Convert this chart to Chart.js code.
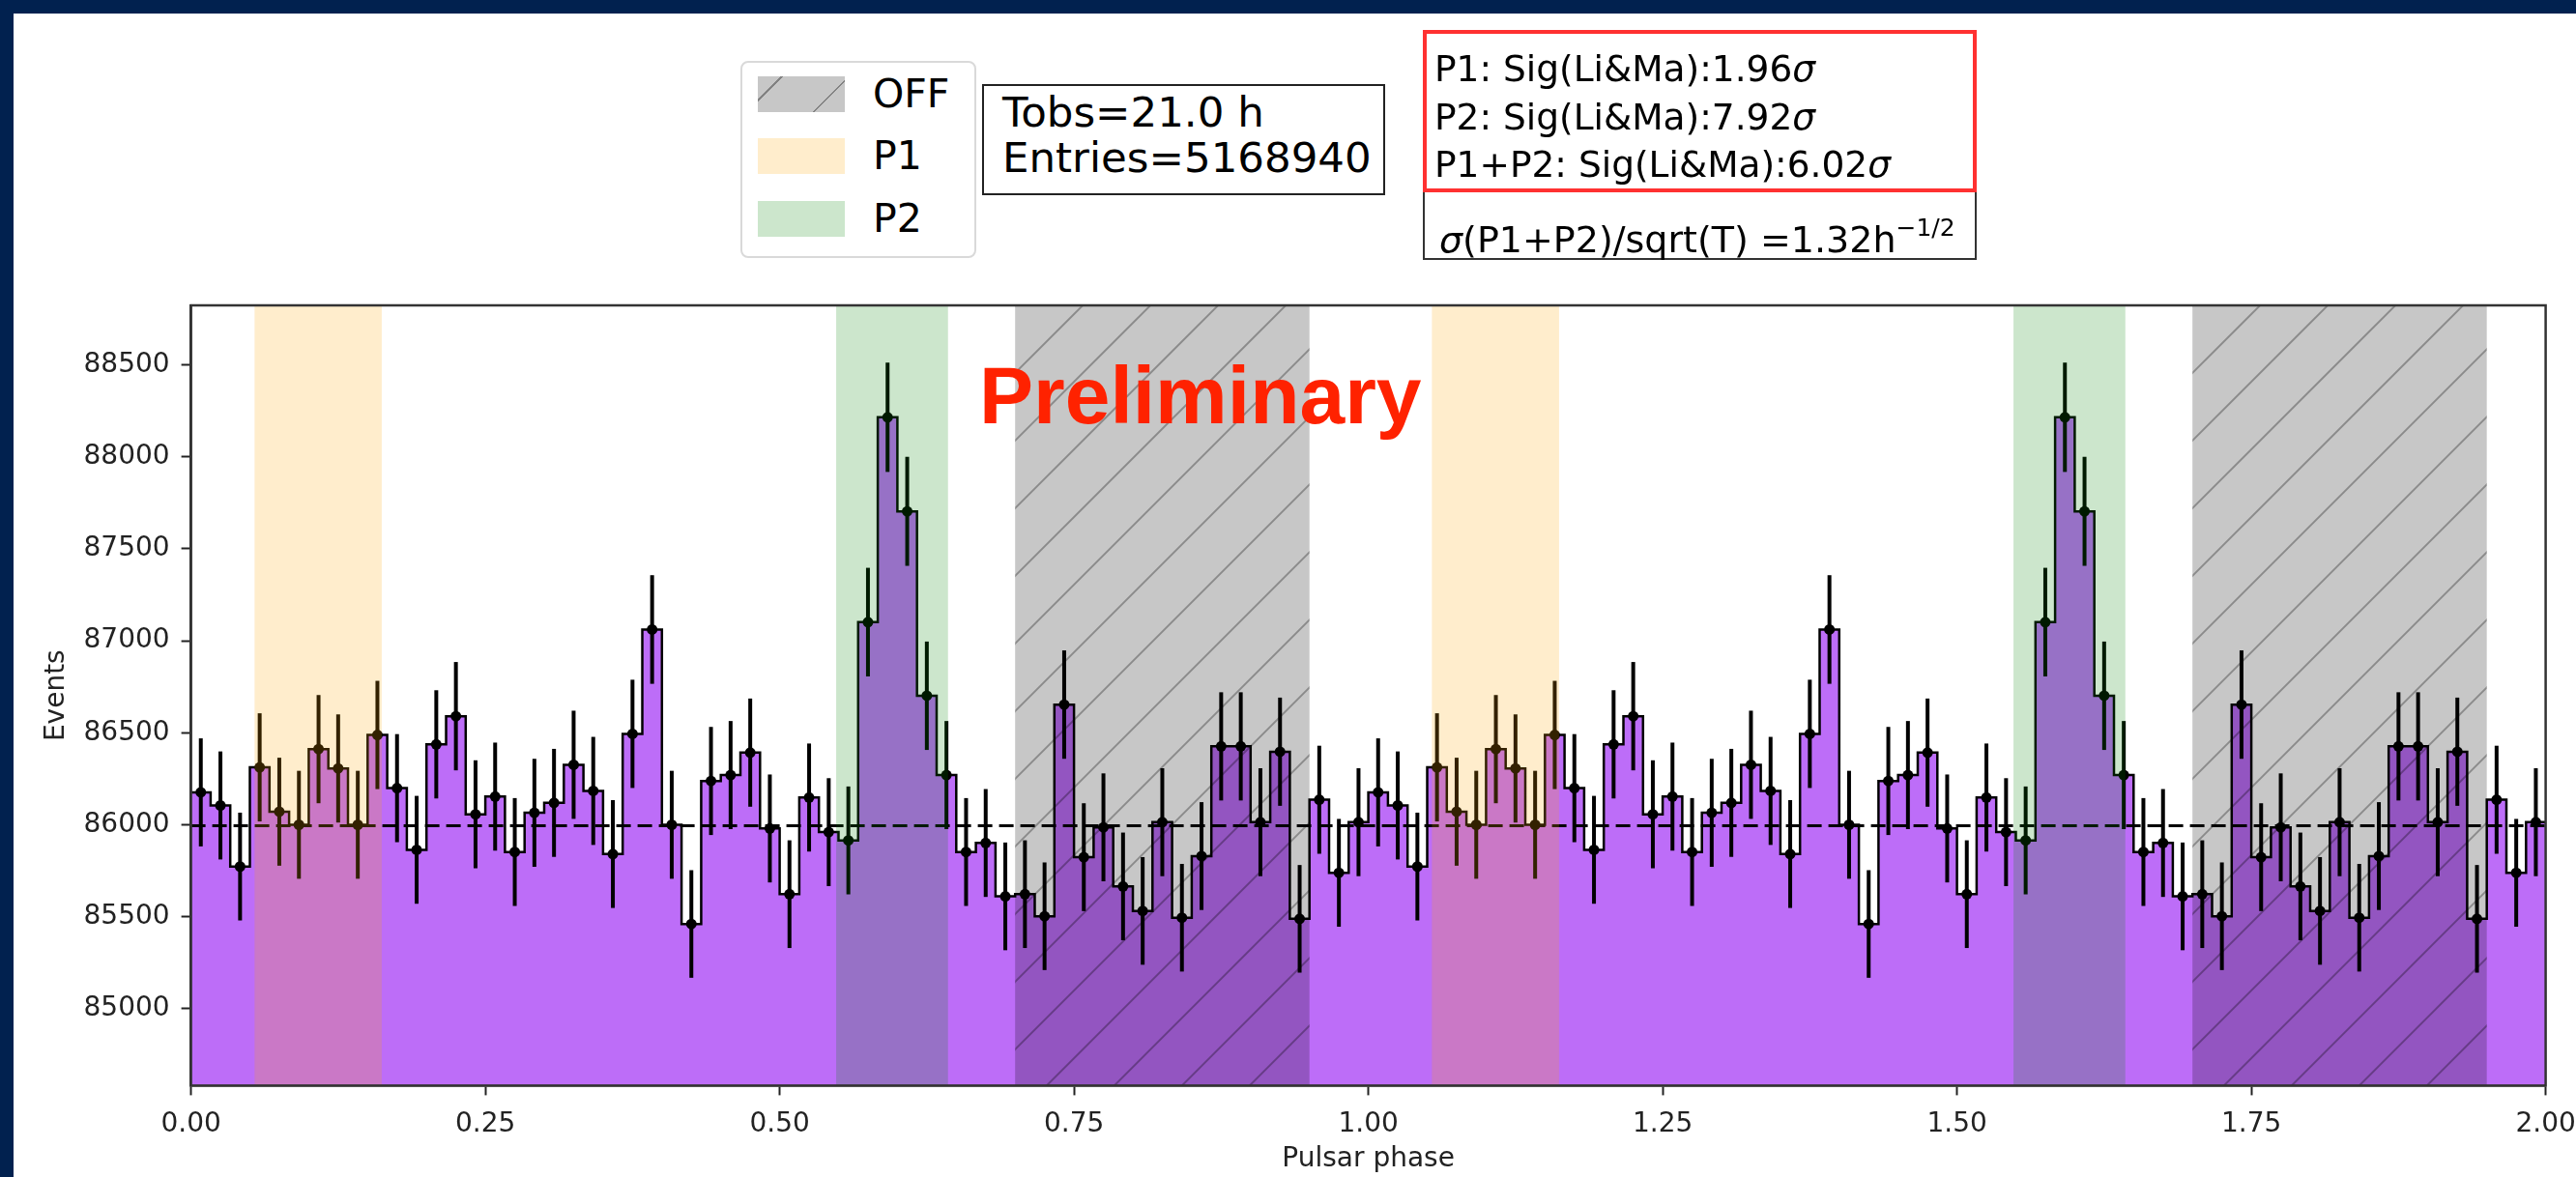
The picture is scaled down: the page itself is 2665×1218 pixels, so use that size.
<!DOCTYPE html>
<html lang="en">
<head>
<meta charset="UTF-8" />
<title>Pulsar phaseogram</title>
<style>
  html, body { margin: 0; padding: 0; }
  body {
    width: 2665px; height: 1218px;
    background: #01214f;
    position: relative; overflow: hidden;
    font-family: "DejaVu Sans", sans-serif;
    color: #000;
  }
  .panel { position: absolute; left: 14px; top: 14px; right: 0; bottom: 0; background: #fff; }
  #phaseChart { position: absolute; left: 0; top: 0; }
  .box { position: absolute; box-sizing: border-box; background: #fff; }
  .line { position: absolute; white-space: nowrap; }

  .legend { left: 766px; top: 63px; width: 244px; height: 204px; border: 2px solid #d9d9d9; border-radius: 8px; }
  .patch { position: absolute; left: 784px; width: 90px; height: 37px; }
  .patch.off {
    background-color: #c7c7c7;
    background-image: repeating-linear-gradient(-45deg, transparent 0 22px, rgba(0,0,0,0.35) 22px 24px, transparent 24px 49px);
  }
  .patch.p1 { background: #ffedcc; }
  .patch.p2 { background: #cce6cc; }
  .legend-text { font-size: 41px; line-height: 50px; left: 903px; }

  .tobs { left: 1016px; top: 87px; width: 417px; height: 115px; border: 2px solid #222; }
  .tobs-text { font-size: 43.5px; line-height: 50px; left: 1037px; }

  .sig { left: 1472px; top: 31px; width: 573px; height: 168px; border: 4px solid #ff3131; }
  .sig-text { font-size: 37.5px; line-height: 44px; left: 1484px; }
  .rate { left: 1472px; top: 197px; width: 573px; height: 72px; border: 2px solid #333; border-top: none; }
  .rate-text { font-size: 38px; line-height: 44px; left: 1489px; }
  .rate-text sup { font-size: 25px; vertical-align: 17px; }

  .prelim {
    position: absolute; left: 1013px; top: 367px;
    font-family: "Liberation Sans", Arial, sans-serif; font-weight: bold;
    font-size: 84px; line-height: 84px; color: #ff2200; white-space: nowrap;
  }
</style>
</head>
<body>
  <div class="panel"></div>
  <canvas id="phaseChart" width="2665" height="1218"></canvas>

  <!-- legend for the shaded phase windows -->
  <div class="box legend"></div>
  <div class="patch off" style="top: 79px;"></div>
  <div class="line legend-text" style="top: 72px;">OFF</div>
  <div class="patch p1" style="top: 143px;"></div>
  <div class="line legend-text" style="top: 136px;">P1</div>
  <div class="patch p2" style="top: 208px;"></div>
  <div class="line legend-text" style="top: 201px;">P2</div>

  <div class="box tobs"></div>
  <div class="line tobs-text" style="top: 91px;">Tobs=21.0 h</div>
  <div class="line tobs-text" style="top: 138px;">Entries=5168940</div>

  <div class="box rate"></div>
  <div class="line rate-text" style="top: 214px;"><i>σ</i>(P1+P2)/sqrt(T) =1.32h<sup>−1/2</sup></div>
  <div class="box sig"></div>
  <div class="line sig-text" style="top: 49px;">P1: Sig(Li&amp;Ma):1.96<i>σ</i></div>
  <div class="line sig-text" style="top: 99px;">P2: Sig(Li&amp;Ma):7.92<i>σ</i></div>
  <div class="line sig-text" style="top: 148px;">P1+P2: Sig(Li&amp;Ma):6.02<i>σ</i></div>

  <div class="prelim">Preliminary</div>

  <script src="https://cdn.jsdelivr.net/npm/chart.js"></script>
  <script>
    // events per phase bin, one pulsar period (60 bins)
    const phaseCounts = [
      86176, 86105, 85773, 86312, 86071, 86000, 86411, 86306, 86000, 86488,
      86199, 85864, 86437, 86590, 86057, 86153, 85852, 86065, 86119, 86326,
      86184, 85841, 86494, 87061, 86000, 85461, 86238, 86270, 86392, 85980,
      85623, 86148, 85960, 85915, 87101, 88214, 87703, 86701, 86270, 85852,
      85901, 85611, 85623, 85503, 86653, 85824, 85986, 85665, 85532, 86014,
      85495, 85830, 86426, 86426, 86014, 86397, 85489, 86136, 85739, 86014
    ];
    // the plot shows the same period twice, phase 0 -> 2
    const counts = phaseCounts.concat(phaseCounts);

    const background = 85995;          // dashed OFF level
    const offRegion = [0.70, 0.95];
    const p1Region = [0.054, 0.162];
    const p2Region = [0.548, 0.643];

    const xTicks = [0, 0.25, 0.5, 0.75, 1.0, 1.25, 1.5, 1.75, 2.0];
    const yTicks = [85000, 85500, 86000, 86500, 87000, 87500, 88000, 88500];
    const xRange = [0, 2];
    const yRange = [84583, 88822];

    const binWidth = (xRange[1] - xRange[0]) / counts.length;

    // step outline: a point on every left bin edge, plus the closing edge
    const stepPoints = counts.map((c, i) => ({ x: i * binWidth, y: c }));
    stepPoints.push({ x: xRange[1], y: counts[counts.length - 1] });

    const centerPoints = counts.map((c, i) => ({ x: (i + 0.5) * binWidth, y: c }));

    const spans = [
      { range: offRegion, color: 'rgba(0,0,0,0.22)', hatch: true },
      { range: p1Region, color: 'rgba(255,165,0,0.2)' },
      { range: p2Region, color: 'rgba(0,128,0,0.2)' }
    ];

    const tickFont = { family: 'DejaVu Sans', size: 28 };

    // poisson error bars, then the shaded windows on top, then the frame
    const overlayPlugin = {
      id: 'overlay',
      afterDatasetsDraw(chart) {
        const { ctx, chartArea: a, scales: { x, y } } = chart;
        ctx.save();

        ctx.strokeStyle = '#000';
        ctx.lineWidth = 4;
        centerPoints.forEach(p => {
          const err = Math.sqrt(p.y);
          const px = x.getPixelForValue(p.x);
          ctx.beginPath();
          ctx.moveTo(px, y.getPixelForValue(p.y - err));
          ctx.lineTo(px, y.getPixelForValue(p.y + err));
          ctx.stroke();
        });

        ctx.beginPath();
        ctx.rect(a.left, a.top, a.right - a.left, a.bottom - a.top);
        ctx.clip();
        const h = a.bottom - a.top;
        spans.forEach(s => {
          [0, 1].forEach(k => {
            const x0 = x.getPixelForValue(s.range[0] + k);
            const x1 = x.getPixelForValue(s.range[1] + k);
            ctx.fillStyle = s.color;
            ctx.fillRect(x0, a.top, x1 - x0, h);
            if (s.hatch) {
              ctx.save();
              ctx.beginPath();
              ctx.rect(x0, a.top, x1 - x0, h);
              ctx.clip();
              ctx.strokeStyle = 'rgba(0,0,0,0.3)';
              ctx.lineWidth = 2;
              for (let c = x0 - h; c < x1; c += 70) {
                ctx.beginPath();
                ctx.moveTo(c, a.bottom);
                ctx.lineTo(c + h, a.top);
                ctx.stroke();
              }
              ctx.restore();
            }
          });
        });
        ctx.restore();

        ctx.save();
        ctx.strokeStyle = '#333';
        ctx.lineWidth = 2.5;
        ctx.strokeRect(a.left, a.top, a.right - a.left, a.bottom - a.top);
        ctx.restore();
      }
    };

    new Chart(document.getElementById('phaseChart'), {
      type: 'line',
      data: {
        datasets: [
          {
            label: 'phase bins',
            type: 'scatter',
            data: centerPoints,
            pointRadius: 5.5,
            pointBackgroundColor: '#000',
            pointBorderWidth: 0,
            order: 0
          },
          {
            label: 'OFF level',
            data: [{ x: xRange[0], y: background }, { x: xRange[1], y: background }],
            borderColor: '#000',
            borderWidth: 3,
            borderDash: [15, 7],
            pointRadius: 0,
            fill: false,
            order: 1
          },
          {
            label: 'Events',
            data: stepPoints,
            stepped: 'before',
            borderColor: '#000',
            borderWidth: 2.5,
            backgroundColor: '#bd6df8',
            fill: 'start',
            pointRadius: 0,
            order: 2
          }
        ]
      },
      options: {
        responsive: false,
        animation: false,
        devicePixelRatio: 1,
        layout: { padding: { left: 0, top: 316, right: 31.4, bottom: 0 } },
        plugins: { legend: { display: false }, tooltip: { enabled: false } },
        scales: {
          x: {
            type: 'linear',
            min: xRange[0], max: xRange[1],
            afterBuildTicks: s => { s.ticks = xTicks.map(v => ({ value: v })); },
            afterFit: s => {
              s.height = 94.6;
              // let the "2.00" label run past the frame like the original
              s.paddingLeft = 0;
              s.paddingRight = 0;
            },
            ticks: {
              font: tickFont, color: '#222', padding: 14,
              maxRotation: 0, autoSkip: false,
              callback: v => v.toFixed(2)
            },
            grid: { drawOnChartArea: false, tickLength: 10, tickWidth: 2, tickColor: '#222' },
            border: { color: '#333', width: 2.5 },
            title: { display: true, text: 'Pulsar phase', font: tickFont, color: '#222', padding: { top: 0, bottom: 1 } }
          },
          y: {
            type: 'linear',
            min: yRange[0], max: yRange[1],
            afterBuildTicks: s => { s.ticks = yTicks.map(v => ({ value: v })); },
            afterFit: s => { s.width = 197.6; },
            ticks: {
              font: tickFont, color: '#222', padding: 12, autoSkip: false,
              callback: v => String(v)
            },
            grid: { drawOnChartArea: false, tickLength: 10, tickWidth: 2, tickColor: '#222' },
            border: { color: '#333', width: 2.5 },
            title: { display: true, text: 'Events', font: tickFont, color: '#222', padding: { top: 42, bottom: 0 } }
          }
        }
      },
      plugins: [overlayPlugin]
    });
  </script>
</body>
</html>
